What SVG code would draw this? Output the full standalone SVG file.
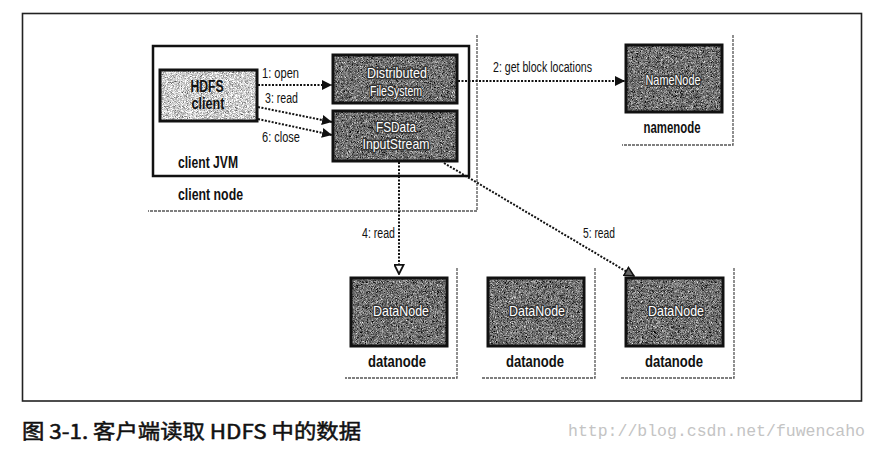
<svg xmlns="http://www.w3.org/2000/svg" width="879" height="450" viewBox="0 0 879 450">
<style>
  .lbl { font-family: "Liberation Sans Narrow", "Liberation Sans", Arial, sans-serif; font-size: 14px; fill: #111; }
  .bold { font-family: "Liberation Sans Narrow", "Liberation Sans", Arial, sans-serif; font-size: 16px; font-weight: bold; fill: #111; }
  .inner { font-family: "Liberation Sans Narrow", "Liberation Sans", Arial, sans-serif; font-size: 15px; fill: #fff; stroke: #333; stroke-width: 3; paint-order: stroke; stroke-linejoin: round; }
  .frame { fill: none; stroke: #555; stroke-width: 1.3; stroke-dasharray: 3 1; }
  .box { fill: none; stroke: #111; stroke-width: 3; }
  .conn { fill: none; stroke: #111; stroke-width: 2; stroke-dasharray: 2 1.5; }
</style>
<defs>
  <filter id="grainDark" x="0" y="0" width="1" height="1" color-interpolation-filters="sRGB">
    <feTurbulence type="fractalNoise" baseFrequency="2.2" numOctaves="1" seed="4"/>
    <feColorMatrix type="matrix" values="0.33 0.33 0.33 0 0  0.33 0.33 0.33 0 0  0.33 0.33 0.33 0 0  0 0 0 0 1"/>
    <feComponentTransfer>
      <feFuncR type="linear" slope="2.4" intercept="-0.75"/>
      <feFuncG type="linear" slope="2.4" intercept="-0.75"/>
      <feFuncB type="linear" slope="2.4" intercept="-0.75"/>
    </feComponentTransfer>
    <feComposite in2="SourceGraphic" operator="in"/>
  </filter>
  <filter id="grainLight" x="0" y="0" width="1" height="1" color-interpolation-filters="sRGB">
    <feTurbulence type="fractalNoise" baseFrequency="2.2" numOctaves="1" seed="9"/>
    <feColorMatrix type="matrix" values="0.33 0.33 0.33 0 0  0.33 0.33 0.33 0 0  0.33 0.33 0.33 0 0  0 0 0 0 1"/>
    <feComponentTransfer>
      <feFuncR type="linear" slope="2.4" intercept="-0.38"/>
      <feFuncG type="linear" slope="2.4" intercept="-0.38"/>
      <feFuncB type="linear" slope="2.4" intercept="-0.38"/>
    </feComponentTransfer>
    <feComposite in2="SourceGraphic" operator="in"/>
  </filter>
  <marker id="arrFill" viewBox="0 0 10 10" refX="10" refY="5" markerWidth="10" markerHeight="10" markerUnits="userSpaceOnUse" orient="auto">
    <path d="M0,0 L10,5 L0,10 Z" fill="#111"/>
  </marker>
  <marker id="arrOpen" viewBox="0 0 12 12" refX="11" refY="6" markerWidth="11" markerHeight="11" markerUnits="userSpaceOnUse" orient="auto">
    <path d="M1,1 L11,6 L1,11 Z" fill="#fff" stroke="#111" stroke-width="2"/>
  </marker>
  <marker id="arrHatch" viewBox="0 0 12 12" refX="11" refY="6" markerWidth="11" markerHeight="11" markerUnits="userSpaceOnUse" orient="auto">
    <path d="M1,1 L11,6 L1,11 Z" fill="#666" stroke="#111" stroke-width="1.6"/>
  </marker>
</defs>

<rect width="879" height="450" fill="#fff"/>
<rect id="outer-frame" x="22.5" y="13.5" width="839" height="387.5" fill="none" stroke="#222" stroke-width="1.6"/>

<g id="client-node">
  <path class="frame" d="M477,35 L477,211 L148,211"/>
  <text class="bold" x="178" y="200" textLength="65" lengthAdjust="spacingAndGlyphs">client node</text>
</g>

<g id="client-jvm">
  <rect x="153" y="46" width="316" height="130" fill="#fff" stroke="#111" stroke-width="2.5"/>
  <text class="bold" x="178" y="168" textLength="60" lengthAdjust="spacingAndGlyphs">client JVM</text>
</g>

<g id="hdfs-client">
  <rect x="160" y="70" width="97" height="51" fill="#ccc" filter="url(#grainLight)"/>
  <rect class="box" x="160" y="70" width="97" height="51"/>
  <text class="bold" x="207" y="92" text-anchor="middle" textLength="33" lengthAdjust="spacingAndGlyphs">HDFS</text>
  <text class="bold" x="208" y="109" text-anchor="middle" textLength="33" lengthAdjust="spacingAndGlyphs">client</text>
</g>

<g id="distributed-filesystem">
  <rect x="333" y="55" width="124" height="48" fill="#666" filter="url(#grainDark)"/>
  <rect class="box" x="333" y="55" width="124" height="48"/>
  <text class="inner" x="397" y="78" text-anchor="middle" textLength="60" lengthAdjust="spacingAndGlyphs">Distributed</text>
  <text class="inner" x="396" y="96" text-anchor="middle" textLength="52" lengthAdjust="spacingAndGlyphs">FileSystem</text>
</g>

<g id="fsdata-inputstream">
  <rect x="333" y="111" width="124" height="50" fill="#666" filter="url(#grainDark)"/>
  <rect class="box" x="333" y="111" width="124" height="50"/>
  <text class="inner" x="396" y="132" text-anchor="middle" textLength="40" lengthAdjust="spacingAndGlyphs">FSData</text>
  <text class="inner" x="396" y="149" text-anchor="middle" textLength="67" lengthAdjust="spacingAndGlyphs">InputStream</text>
</g>

<g id="namenode">
  <path class="frame" d="M733,35 L733,145 L622,145"/>
  <rect x="626" y="45" width="96" height="67" fill="#666" filter="url(#grainDark)"/>
  <rect class="box" x="626" y="45" width="96" height="67"/>
  <text class="inner" x="673" y="85" text-anchor="middle" textLength="55" lengthAdjust="spacingAndGlyphs">NameNode</text>
  <text class="bold" x="672" y="133" text-anchor="middle" textLength="57" lengthAdjust="spacingAndGlyphs">namenode</text>
</g>

<g id="datanode-1">
  <path class="frame" d="M457,268 L457,378 L345,378"/>
  <rect x="351" y="278" width="96" height="68" fill="#666" filter="url(#grainDark)"/>
  <rect class="box" x="351" y="278" width="96" height="68"/>
  <text class="inner" x="401" y="316" text-anchor="middle" textLength="56" lengthAdjust="spacingAndGlyphs">DataNode</text>
  <text class="bold" x="397" y="367" text-anchor="middle" textLength="58" lengthAdjust="spacingAndGlyphs">datanode</text>
</g>

<g id="datanode-2">
  <path class="frame" d="M595,268 L595,378 L482,378"/>
  <rect x="488" y="278" width="96" height="68" fill="#666" filter="url(#grainDark)"/>
  <rect class="box" x="488" y="278" width="96" height="68"/>
  <text class="inner" x="537" y="316" text-anchor="middle" textLength="56" lengthAdjust="spacingAndGlyphs">DataNode</text>
  <text class="bold" x="535" y="367" text-anchor="middle" textLength="58" lengthAdjust="spacingAndGlyphs">datanode</text>
</g>

<g id="datanode-3">
  <path class="frame" d="M734,268 L734,378 L620,378"/>
  <rect x="626" y="278" width="97" height="68" fill="#666" filter="url(#grainDark)"/>
  <rect class="box" x="626" y="278" width="97" height="68"/>
  <text class="inner" x="676" y="316" text-anchor="middle" textLength="56" lengthAdjust="spacingAndGlyphs">DataNode</text>
  <text class="bold" x="674" y="367" text-anchor="middle" textLength="58" lengthAdjust="spacingAndGlyphs">datanode</text>
</g>

<g id="connectors">
  <line class="conn" x1="258" y1="85" x2="332" y2="85" marker-end="url(#arrFill)"/>
  <text class="lbl" x="262" y="78" textLength="37" lengthAdjust="spacingAndGlyphs">1: open</text>
  <line class="conn" x1="258" y1="107" x2="332" y2="122" marker-end="url(#arrFill)"/>
  <text class="lbl" x="265" y="103" textLength="33" lengthAdjust="spacingAndGlyphs">3: read</text>
  <line class="conn" x1="258" y1="119" x2="332" y2="135" marker-end="url(#arrFill)"/>
  <text class="lbl" x="262" y="142" textLength="38" lengthAdjust="spacingAndGlyphs">6: close</text>
  <line class="conn" x1="458" y1="81" x2="625" y2="81" marker-end="url(#arrFill)"/>
  <text class="lbl" x="493" y="72" textLength="99" lengthAdjust="spacingAndGlyphs">2: get block locations</text>
  <line class="conn" x1="399" y1="162" x2="399" y2="274" marker-end="url(#arrOpen)"/>
  <text class="lbl" x="362" y="238" textLength="33" lengthAdjust="spacingAndGlyphs">4: read</text>
  <line class="conn" x1="444" y1="163" x2="634" y2="276" marker-end="url(#arrHatch)"/>
  <text class="lbl" x="583" y="238" textLength="32" lengthAdjust="spacingAndGlyphs">5: read</text>
</g>

<text id="caption" x="22" y="439" font-family="'Noto Sans CJK SC', 'Liberation Sans', sans-serif" font-size="20" font-weight="normal" fill="#111" stroke="#111" stroke-width="0.5" textLength="339" lengthAdjust="spacingAndGlyphs">图 3-1. 客户端读取 HDFS 中的数据</text>
<text id="watermark" x="568" y="436" font-family="'Liberation Mono', monospace" font-size="16.5" fill="#c4c4c4" textLength="297" lengthAdjust="spacingAndGlyphs">http://blog.csdn.net/fuwencaho</text>
</svg>
